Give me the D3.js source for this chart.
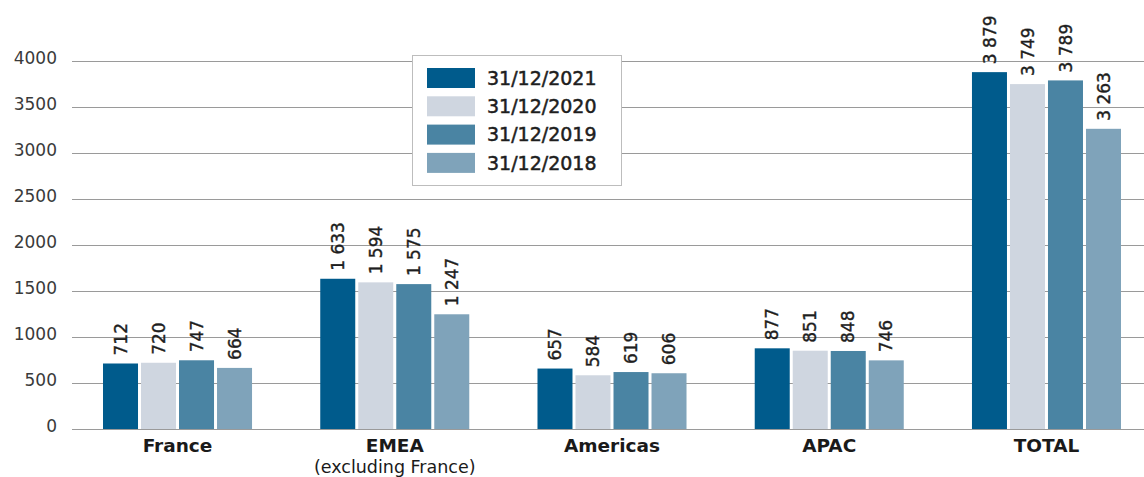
<!DOCTYPE html>
<html>
<head>
<meta charset="utf-8">
<script src="https://cdn.jsdelivr.net/npm/d3@7"></script>
<style>
  html, body { margin: 0; padding: 0; background: #fff; }
  svg { display: block; font-family: "DejaVu Sans", "Liberation Sans", sans-serif; }
</style>
</head>
<body>
<div id="chart"></div>
<script>
const categories = ["France", "EMEA", "Americas", "APAC", "TOTAL"]
const subLabels = ["", "(excluding France)", "", "", ""]
const seriesNames = ["31/12/2021", "31/12/2020", "31/12/2019", "31/12/2018"]
const values2021 = [712, 1633, 657, 877, 3879]
const values2020 = [720, 1594, 584, 851, 3749]
const values2019 = [747, 1575, 619, 848, 3789]
const values2018 = [664, 1247, 606, 746, 3263]
const yTicks = [0, 500, 1000, 1500, 2000, 2500, 3000, 3500, 4000]
const colors = ["#005b8c", "#cfd6e0", "#4a84a3", "#7fa3ba"]

const seriesValues = [values2021, values2020, values2019, values2018]

const width = 1144
const height = 477

const svg = d3.select("#chart")
  .append("svg")
  .attr("width", width)
  .attr("height", height)

const y = d3.scaleLinear()
  .domain([0, 4000])
  .range([429, 61])

const x = d3.scaleBand()
  .domain(categories)
  .range([68.9, 1155.1])
  .paddingInner(0.314)
  .paddingOuter(0.157)

const xInner = d3.scaleBand()
  .domain(seriesNames)
  .range([0, x.bandwidth()])
  .paddingInner(0.079)
  .paddingOuter(0)

// gridlines
svg.append("g")
  .selectAll("line")
  .data(yTicks)
  .join("line")
  .attr("x1", 72)
  .attr("x2", width)
  .attr("y1", d => y(d) + 0.5)
  .attr("y2", d => y(d) + 0.5)
  .attr("stroke", "#9a9a9a")
  .attr("stroke-width", 1)

// y tick labels
svg.append("g")
  .selectAll("text")
  .data(yTicks)
  .join("text")
  .attr("x", 57)
  .attr("y", d => y(d) - 3)
  .attr("dy", "0.36em")
  .attr("text-anchor", "end")
  .attr("font-size", "17px")
  .attr("fill", "#3a3a3a")
  .text(d => d)

const fmt = v => d3.format(",")(v).replace(",", " ")

// bars
const groups = svg.append("g")
  .selectAll("g")
  .data(categories)
  .join("g")
  .attr("transform", d => `translate(${x(d)},0)`)

groups.each(function(cat, ci) {
  const g = d3.select(this)
  seriesNames.forEach((s, si) => {
    const v = seriesValues[si][ci]
    g.append("rect")
      .attr("x", xInner(s))
      .attr("y", y(v))
      .attr("width", xInner.bandwidth())
      .attr("height", y(0) - y(v))
      .attr("fill", colors[si])

    const cx = xInner(s) + xInner.bandwidth() / 2
    const ty = y(v) - 8
    g.append("text")
      .attr("transform", `translate(${cx},${ty}) rotate(-90)`)
      .attr("dy", "0.36em")
      .attr("text-anchor", "start")
      .attr("font-size", "17px")
      .attr("fill", "#1e1e1e")
      .attr("stroke", "#1e1e1e")
      .attr("stroke-width", 0.4)
      .text(fmt(v))
  })
})

// category labels
svg.append("g")
  .selectAll("text")
  .data(categories)
  .join("text")
  .attr("x", d => x(d) + x.bandwidth() / 2)
  .attr("y", 452)
  .attr("text-anchor", "middle")
  .attr("font-size", "18.5px")
  .attr("font-weight", 700)
  .attr("fill", "#1a1a1a")
  .text(d => d)

svg.append("g")
  .selectAll("text")
  .data(categories)
  .join("text")
  .attr("x", d => x(d) + x.bandwidth() / 2)
  .attr("y", 472.5)
  .attr("text-anchor", "middle")
  .attr("font-size", "17.5px")
  .attr("fill", "#1a1a1a")
  .text((d, i) => subLabels[i])

// legend
const legend = svg.append("g").attr("transform", "translate(412,55)")
legend.append("rect")
  .attr("x", 0.5)
  .attr("y", 0.5)
  .attr("width", 209)
  .attr("height", 130)
  .attr("fill", "#fff")
  .attr("stroke", "#bdbdbd")
  .attr("stroke-width", 1)

const items = legend.selectAll("g.item")
  .data(seriesNames)
  .join("g")
  .attr("class", "item")
  .attr("transform", (d, i) => `translate(15,${13 + i * 28.3})`)

items.append("rect")
  .attr("width", 48)
  .attr("height", 20)
  .attr("fill", (d, i) => colors[i])

items.append("text")
  .attr("x", 60)
  .attr("y", 10)
  .attr("dy", "0.36em")
  .attr("font-size", "19px")
  .attr("fill", "#1e1e1e")
  .attr("stroke", "#1e1e1e")
  .attr("stroke-width", 0.5)
  .text(d => d)
</script>
</body>
</html>
